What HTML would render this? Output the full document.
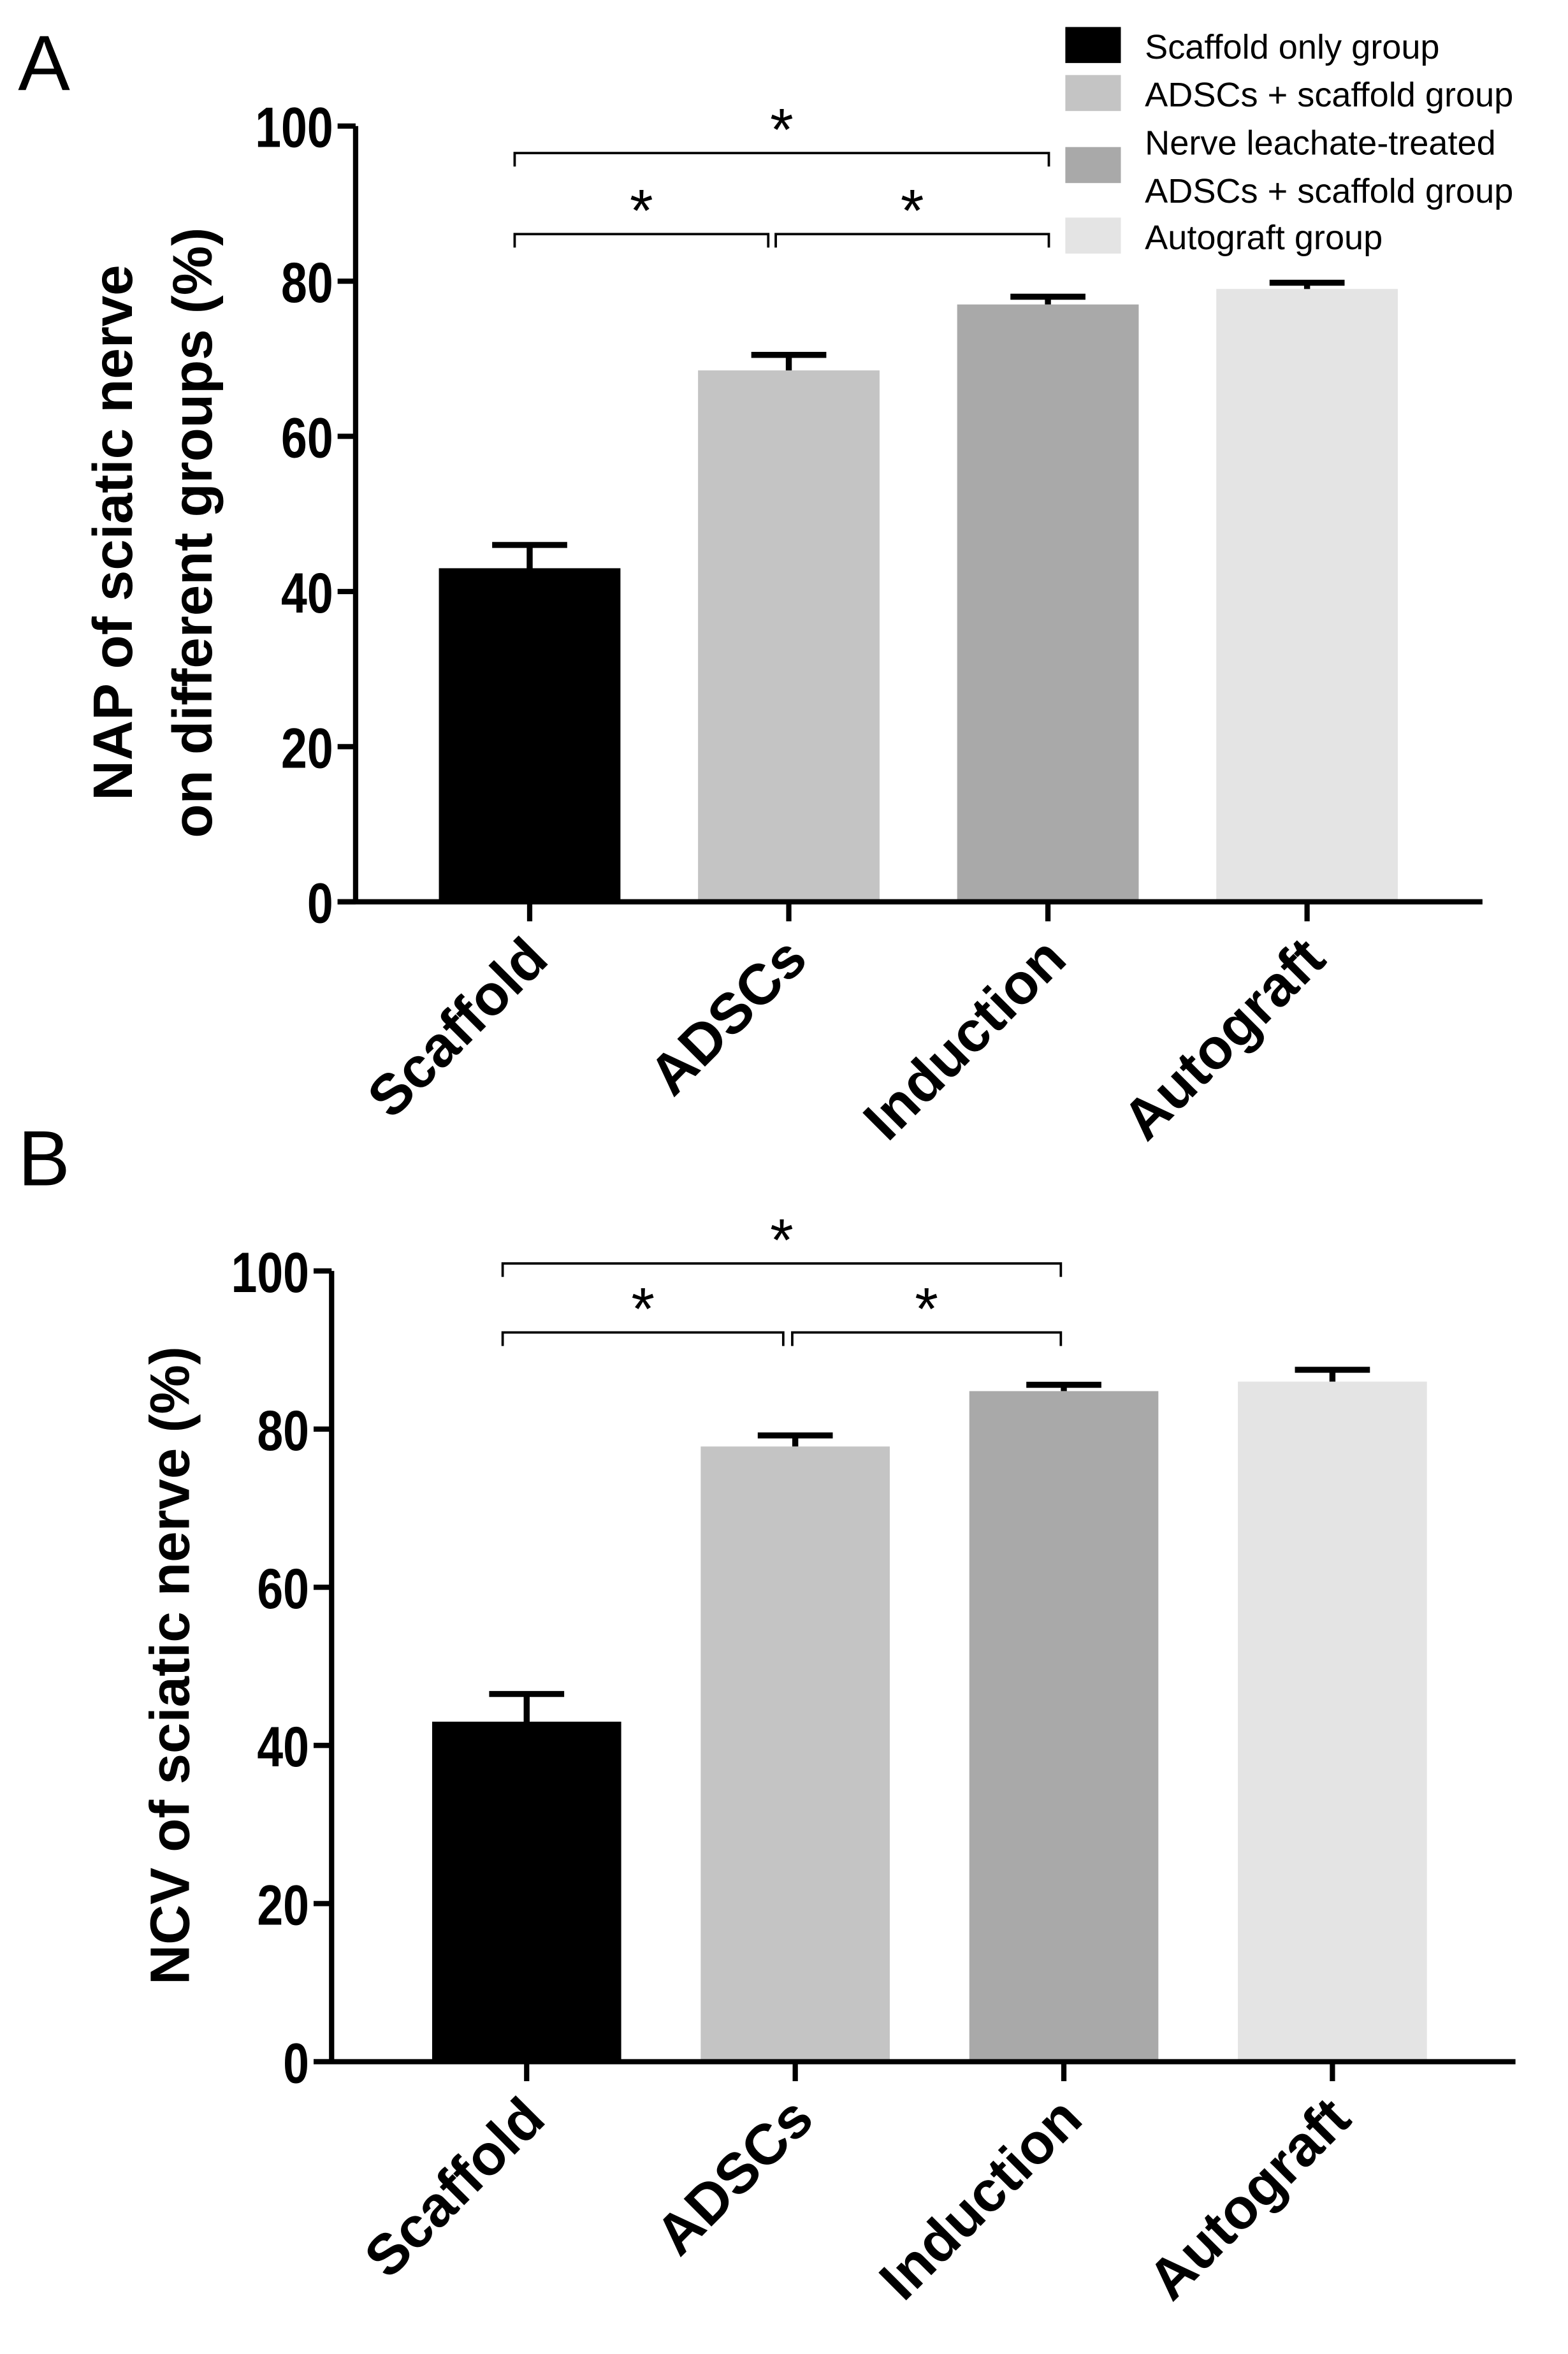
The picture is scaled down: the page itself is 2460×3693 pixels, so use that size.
<!DOCTYPE html>
<html><head><meta charset="utf-8"><style>
html,body{margin:0;padding:0;background:#fff}
svg{display:block}
.tick{font-family:"Liberation Sans",sans-serif;font-weight:bold;font-size:38px}
.cat{font-family:"Liberation Sans",sans-serif;font-weight:bold;font-size:38px}
.ttl{font-family:"Liberation Sans",sans-serif;font-weight:bold;font-size:37px}
.leg{font-family:"Liberation Sans",sans-serif;font-size:23px}
.pl{font-family:"Liberation Sans",sans-serif;font-size:52px}
.star{font-family:"Liberation Sans",sans-serif;font-size:40px}
</style></head><body>
<svg id="chart" width="2460" height="3693" viewBox="0 0 1045 1568.8" preserveAspectRatio="none" xmlns="http://www.w3.org/2000/svg"></svg>
<script>
const categories = ["Scaffold","ADSCs","Induction","Autograft"];
const colors = ["#000000","#c4c4c4","#a9a9a9","#e4e4e4"];
const napValues = [43, 68.5, 77, 79];
const napErrors = [3, 2, 1, 0.8];
const ncvValues = [43, 77.8, 84.8, 86];
const ncvErrors = [3.5, 1.4, 0.8, 1.5];
const yTicks = [0,20,40,60,80,100];
const legendLabels = [["Scaffold only group"],["ADSCs + scaffold group"],["Nerve leachate-treated","ADSCs + scaffold group"],["Autograft group"]];

const NS="http://www.w3.org/2000/svg";
const svg=document.getElementById('chart');
function mk(tag,attrs,parent){const e=document.createElementNS(NS,tag);for(const k in attrs)e.setAttribute(k,attrs[k]);(parent||svg).appendChild(e);return e;}

function panel(cfg){
  const g=mk('g',{});
  
  
  const y=v=>cfg.y0-(v/100)*(cfg.y0-cfg.y100);
  const x=i=>cfg.c0+i*cfg.step;
  const pl=mk('text',{x:12,y:cfg.labelY,class:'pl'},g);pl.textContent=cfg.letter;
  
  
  cfg.values.forEach((v,i)=>{
    const r=mk('rect',{x:x(i)-cfg.bw/2,y:y(v),width:cfg.bw,height:y(0)-y(v),fill:colors[i]},g);
    
    
    const top=y(v+cfg.errors[i]);
    const eb=mk('path',{d:`M${x(i)} ${y(v)}V${top}M${x(i)-25} ${top}H${x(i)+25}`,stroke:'#000','stroke-width':4,fill:'none'},g);
    
    
  });
  const ax=mk('path',{d:`M${cfg.ax} ${cfg.y100}V${cfg.y0}M${cfg.ax-12} ${cfg.y0}H${cfg.axEnd}`,stroke:'#000','stroke-width':3.5,fill:'none'},g);
  
  
  yTicks.forEach(t=>{
    mk('line',{x1:cfg.ax-12,x2:cfg.ax,y1:y(t),y2:y(t),stroke:'#000','stroke-width':3.5},g);
    const tx=mk('text',{x:0,y:0,'text-anchor':'end',class:'tick',transform:`translate(${cfg.ax-15},${y(t)+14}) scale(0.82,1)`},g);tx.textContent=t;
    
    
  });
  categories.forEach((c,i)=>{
    mk('line',{x1:x(i),x2:x(i),y1:y(0),y2:y(0)+13,stroke:'#000','stroke-width':3.5},g);
    const tx=mk('text',{x:0,y:0,'text-anchor':'end',class:'cat',transform:`translate(${x(i)+14},${y(0)+40}) rotate(-45)`},g);tx.textContent=c;
    
    
  });
  const tt=mk('text',{'text-anchor':'middle',class:'ttl',transform:`translate(${cfg.titleX},${cfg.titleY}) rotate(-90)`},g);
  
  
  cfg.title.forEach((l,k)=>{const ts=mk('tspan',{x:0,dy:k?53:0},tt);ts.textContent=l;});
  cfg.brackets.forEach(([a,e,yy])=>{
    const p=mk('path',{d:`M${a} ${yy+9}V${yy}H${e}V${yy+9}`,stroke:'#000','stroke-width':1.6,fill:'none'},g);
    
    
    const s=mk('text',{x:(a+e)/2,y:yy-2,'text-anchor':'middle',class:'star'},g);s.textContent='*';
    
    
  });
}
panel({name:'panel-a-nap',letter:'A',labelY:60,ax:237,axEnd:988,y0:601,y100:84,c0:353,step:172.7,bw:121,
  values:napValues,errors:napErrors,title:['NAP of sciatic nerve','on different groups (%)'],titleX:88,titleY:355,
  brackets:[[343,699,102],[343,512,156],[517,699,156]]});
panel({name:'panel-b-ncv',letter:'B',labelY:790,ax:221,axEnd:1010,y0:1374,y100:847,c0:351,step:179,bw:126,
  values:ncvValues,errors:ncvErrors,title:['NCV of sciatic nerve (%)'],titleX:126,titleY:1110,
  brackets:[[335,707,842],[335,522,888],[528,707,888]]});
const lg=mk('g',{});


const rowsY=[30,62,110,157];
legendLabels.forEach((ls,i)=>{
  const it=mk('g',{},lg);
  
  
  mk('rect',{x:710,y:rowsY[i]-12,width:37,height:24,fill:colors[i]},it);
  ls.forEach((l,k)=>{const t=mk('text',{x:763,y:rowsY[i]+9+(ls.length>1?(k?16:-16):0),class:'leg'},it);t.textContent=l;});
});
</script>
</body></html>
